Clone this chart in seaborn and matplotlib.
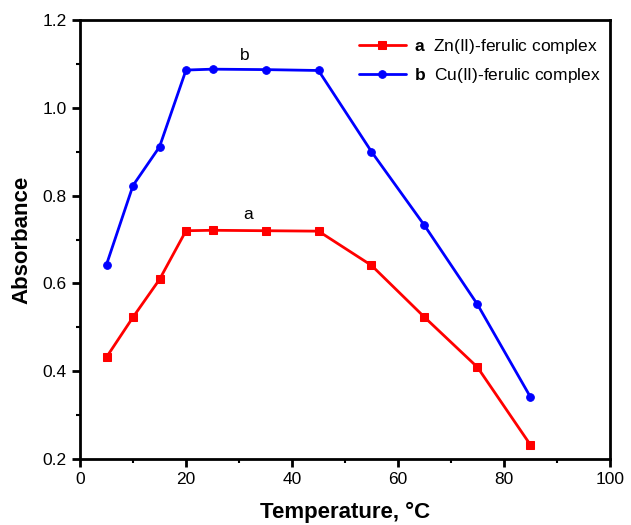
import matplotlib
matplotlib.use("Agg")
import matplotlib.pyplot as plt
from matplotlib.ticker import MultipleLocator, FormatStrFormatter
import seaborn as sns
import pandas as pd

temperature = [5, 10, 15, 20, 25, 35, 45, 55, 65, 75, 85]
zn_absorbance = [0.432, 0.523, 0.609, 0.720, 0.721, 0.720, 0.719, 0.641, 0.523, 0.409, 0.232]
cu_absorbance = [0.643, 0.823, 0.911, 1.086, 1.088, 1.087, 1.085, 0.900, 0.732, 0.552, 0.341]
series_names = ["Zn(II)-ferulic complex", "Cu(II)-ferulic complex"]
series_tags = ["a", "b"]
series_colors = ["#ff0000", "#0000ff"]
series_markers = ["s", "o"]

sns.set_theme(style="ticks")
plt.rcParams["font.family"] = ["Liberation Sans", "DejaVu Sans"]
plt.rcParams["mathtext.fontset"] = "custom"
plt.rcParams["mathtext.bf"] = "Liberation Sans:bold"
plt.rcParams["mathtext.rm"] = "Liberation Sans"
plt.rcParams["text.color"] = "black"
plt.rcParams["axes.labelcolor"] = "black"

df = pd.concat([
    pd.DataFrame({"Temperature": temperature, "Absorbance": zn_absorbance, "Sample": series_names[0]}),
    pd.DataFrame({"Temperature": temperature, "Absorbance": cu_absorbance, "Sample": series_names[1]}),
])

fig = plt.figure(figsize=(6.31, 5.25), dpi=100)
ax = fig.add_axes([0.1268, 0.1257, 0.8399, 0.8362])

for name, tag, color, marker in zip(series_names, series_tags, series_colors, series_markers):
    sub = df[df["Sample"] == name]
    sns.lineplot(data=sub, x="Temperature", y="Absorbance", ax=ax, color=color,
                 marker=marker, markersize=5.5, markeredgecolor=color, linewidth=2,
                 label=r"$\bf{" + tag + r"}$  " + name)

ax.text(31.7, 0.757, "a", fontsize=12.5, ha="center", va="center", color="black")
ax.text(31.0, 1.120, "b", fontsize=12.5, ha="center", va="center", color="black")

ax.set_xlim(0, 100)
ax.set_ylim(0.2, 1.2)
ax.xaxis.set_major_locator(MultipleLocator(20))
ax.xaxis.set_minor_locator(MultipleLocator(10))
ax.yaxis.set_major_locator(MultipleLocator(0.2))
ax.yaxis.set_minor_locator(MultipleLocator(0.1))
ax.yaxis.set_major_formatter(FormatStrFormatter("%.1f"))
ax.tick_params(which="major", direction="out", length=6, width=2, labelsize=12.5, colors="black")
ax.tick_params(which="minor", direction="out", length=3, width=1.5, colors="black")
ax.tick_params(top=False, right=False, which="both")
for s in ax.spines.values():
    s.set_linewidth(2)
    s.set_color("black")
    s.set_visible(True)

ax.set_xlabel("Temperature, °C", fontsize=16, fontweight="bold", va="center", color="black")
ax.set_ylabel("Absorbance", fontsize=16, fontweight="bold", va="center", color="black")
ax.xaxis.set_label_coords(0.5, -0.121)
ax.yaxis.set_label_coords(-0.11, 0.5)

leg = ax.legend(loc="upper right", bbox_to_anchor=(1.003, 0.985), frameon=False,
                fontsize=12.5, handlelength=2.7, borderaxespad=0.2,
                labelspacing=0.6, handletextpad=0.5)
for t in leg.get_texts():
    t.set_color("black")

fig.savefig("out.png", dpi=100)
